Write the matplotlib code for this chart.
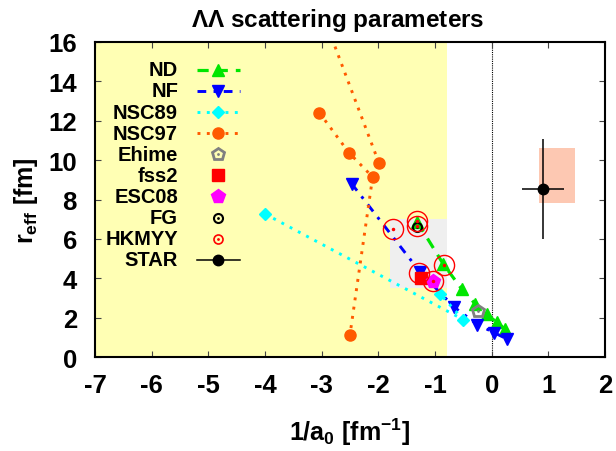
import matplotlib
matplotlib.use('Agg')
import matplotlib.pyplot as plt
from matplotlib.patches import Rectangle
from matplotlib.lines import Line2D

plt.rcParams['font.family'] = ['Liberation Sans', 'DejaVu Sans']
plt.rcParams['font.weight'] = 'bold'
plt.rcParams['axes.unicode_minus'] = False
plt.rcParams['mathtext.fontset'] = 'custom'
plt.rcParams['mathtext.rm'] = 'Liberation Sans:bold'
plt.rcParams['mathtext.it'] = 'Liberation Sans:bold'
plt.rcParams['mathtext.bf'] = 'Liberation Sans:bold'
plt.rcParams['mathtext.default'] = 'rm'

# ---- data: (1/a0 [fm^-1], r_eff [fm]) ----
nd_x = [-1.31, -0.85, -0.53, -0.29, -0.09, 0.09, 0.23]
nd_y = [6.85, 4.71, 3.47, 2.71, 2.18, 1.78, 1.44]

nf_x = [-2.47, -1.27, -0.66, -0.25, 0.05, 0.27]
nf_y = [8.80, 4.35, 2.54, 1.66, 1.24, 0.93]

nsc89_x = [-4.00, -0.50, -0.91]
nsc89_y = [7.27, 1.91, 3.21]

# NSC97: one chain plus one branch running off the top of the frame
nsc97_x = [-3.04, -2.52, -2.10, -2.50]
nsc97_y = [12.40, 10.38, 9.14, 1.15]
nsc97b_x = [-1.99, -3.06]
nsc97b_y = [9.86, 18.0]

ehime_x, ehime_y = [-0.24], [2.37]
fss2_x, fss2_y = [-1.24], [4.01]
esc08_x, esc08_y = [-1.03], [3.85]
fg_x, fg_y = [-1.31], [6.62]
hkmyy_x = [-1.74, -1.31, -1.31, -0.84, -1.29, -1.03]
hkmyy_y = [6.48, 6.93, 6.68, 4.69, 4.25, 3.85]

star_x, star_y = [0.91], [8.53]
star_xerr, star_yerr = [0.37], [2.53]
star_sys_x = [0.83, 1.47]
star_sys_y = [7.8, 10.6]

yellow_x = [-7.0, -0.79]
grey_x = [-1.79, -0.79]
grey_y = [3.49, 7.0]

GREEN = '#00e600'
BLUE = '#0000ff'
CYAN = '#00ffff'
ORANGE = '#ff5a00'

fig = plt.figure(figsize=(6.16, 4.52), dpi=100)
ax = fig.add_axes([0.1542, 0.2073, 0.8279, 0.6982])

ax.set_xlim(-7, 2)
ax.set_ylim(0, 16)

# shaded regions
ax.add_patch(Rectangle((yellow_x[0], 0), yellow_x[1] - yellow_x[0], 16,
                       color='#ffffb4', lw=0, zorder=0))
ax.add_patch(Rectangle((grey_x[0], grey_y[0]), grey_x[1] - grey_x[0], grey_y[1] - grey_y[0],
                       color='#efefef', lw=0, zorder=0.5))
ax.add_patch(Rectangle((star_sys_x[0], star_sys_y[0]), star_sys_x[1] - star_sys_x[0],
                       star_sys_y[1] - star_sys_y[0], color='#fdc8b2', lw=0, zorder=0.5))
ax.axvline(0, color='black', lw=0.8, ls=(0, (1, 1)), zorder=1)

nd_ls = (0, (3.5, 2.5))
nf_ls = (0, (3, 2.5, 1, 2.5))
dot_ls = (0, (1, 2.2))

ax.plot(nd_x, nd_y, color=GREEN, ls=nd_ls, lw=2.3, marker='^', ms=9, zorder=3)
ax.plot(nf_x, nf_y, color=BLUE, ls=nf_ls, lw=2.1, marker='v', ms=9, zorder=3)
ax.plot(nsc89_x, nsc89_y, color=CYAN, ls=dot_ls, lw=2.1, marker='D', ms=6.5, zorder=3)
ax.plot(nsc97_x, nsc97_y, color=ORANGE, ls=dot_ls, lw=2.1, marker='o', ms=8, zorder=3)
ax.plot(nsc97b_x, nsc97b_y, color=ORANGE, ls=dot_ls, lw=2.1, marker='o', ms=8, zorder=3)

ax.plot(ehime_x, ehime_y, ls='none', marker='p', ms=9, mfc='none', mec='#808080', mew=2.0, zorder=4)
ax.plot(ehime_x, ehime_y, ls='none', marker='.', ms=2, color='#808080', zorder=4)
ax.plot(fss2_x, fss2_y, ls='none', marker='s', ms=8.5, color='#ff0000', zorder=4)
ax.plot(esc08_x, esc08_y, ls='none', marker='p', ms=10, color='#ff00ff', zorder=4)
ax.plot(fg_x, fg_y, ls='none', marker='o', ms=6.5, mfc='none', mec='black', mew=1.5, zorder=5)
ax.plot(fg_x, fg_y, ls='none', marker='.', ms=2, color='black', zorder=5)
ax.plot(hkmyy_x, hkmyy_y, ls='none', marker='o', ms=14.5, mfc='none', mec='#ff0000', mew=1.0, zorder=6)
ax.plot(hkmyy_x, hkmyy_y, ls='none', marker='.', ms=3, color='#ff0000', zorder=6)

ax.errorbar(star_x, star_y, xerr=star_xerr, yerr=star_yerr, fmt='o', color='black',
            ms=7.5, elinewidth=1.1, capsize=0, zorder=6)

# ticks and frame
ax.set_xticks(range(-7, 3))
ax.set_yticks(range(0, 17, 2))
ax.tick_params(direction='in', length=4, width=0.8, top=True, right=True,
               labelsize=18.5, color='#444444')
ax.tick_params(axis='x', pad=11)
ax.tick_params(axis='y', pad=13)
for s in ax.spines.values():
    s.set_linewidth(1.5)

ax.set_title(r'$\Lambda\Lambda$ scattering parameters', fontsize=17.5, fontweight='bold',
             pad=11, x=0.476)
ax.set_xlabel(r'1/a$_0$ [fm$^{-1}$]', fontsize=18, fontweight='bold', labelpad=14)
ax.set_ylabel(r'r$_{eff}$ [fm]', fontsize=18, fontweight='bold', labelpad=6)

# legend (gnuplot style: text right-aligned, sample on the right)
labels = ['ND', 'NF', 'NSC89', 'NSC97', 'Ehime', 'fss2', 'ESC08', 'FG', 'HKMYY', 'STAR']
styles = [
    dict(color=GREEN, ls=nd_ls, lw=2.3, marker='^', ms=9),
    dict(color=BLUE, ls=nf_ls, lw=2.1, marker='v', ms=9),
    dict(color=CYAN, ls=dot_ls, lw=2.1, marker='D', ms=6.5),
    dict(color=ORANGE, ls=dot_ls, lw=2.1, marker='o', ms=8),
    dict(ls='none', marker='p', ms=9, mfc='none', mec='#808080', mew=2.0),
    dict(ls='none', marker='s', ms=8.5, color='#ff0000'),
    dict(ls='none', marker='p', ms=10, color='#ff00ff'),
    dict(ls='none', marker='o', ms=6.5, mfc='none', mec='black', mew=1.5),
    dict(ls='none', marker='o', ms=6.5, mfc='none', mec='#ff0000', mew=1.2),
    dict(color='black', ls='-', lw=1.1, marker='o', ms=7.5),
]
dots = {'Ehime': '#808080', 'FG': 'black', 'HKMYY': '#ff0000'}
x_txt, x1, xm, x2 = 0.163, 0.200, 0.242, 0.284
y0, dy = 0.911, 0.0669
for i, (lab, st) in enumerate(zip(labels, styles)):
    yy = y0 - i * dy
    ax.text(x_txt, yy, lab, transform=ax.transAxes, ha='right', va='center',
            fontsize=14.5, fontweight='bold', zorder=7)
    ln = Line2D([x1, xm, x2], [yy, yy, yy], transform=ax.transAxes, markevery=[1],
                clip_on=False, zorder=7, **st)
    ax.add_line(ln)
    if lab in dots:
        ax.add_line(Line2D([xm], [yy], transform=ax.transAxes, ls='none', marker='.', ms=2,
                           color=dots[lab], clip_on=False, zorder=7))

fig.savefig('out.png', dpi=100)
